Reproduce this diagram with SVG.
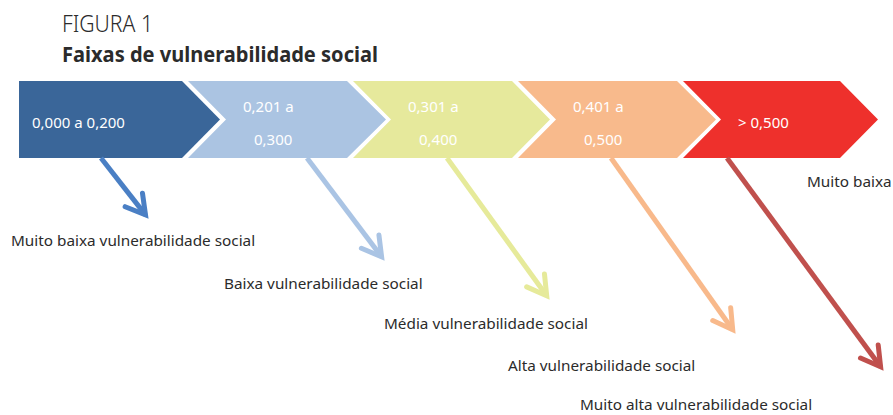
<svg xmlns="http://www.w3.org/2000/svg" width="893" height="415" viewBox="0 0 893 415">
  <style>
    .title { font-family: "Noto Sans", "Open Sans", sans-serif; fill: #2b2b2b; }
    .band { stroke: none; }
    .val { font-family: "Noto Sans", "Open Sans", sans-serif; font-size: 15px; fill: #ffffff; }
    .lbl { font-family: "Noto Sans", "Open Sans", sans-serif; font-size: 15.3px; fill: #2b2b2b; }
    .arrow { fill: none; stroke-width: 5; stroke-linecap: butt; }
    .head { fill: none; stroke-width: 5; stroke-linejoin: miter; stroke-linecap: round; }
  </style>
  <defs>
    <marker id="head-1" markerUnits="userSpaceOnUse" markerWidth="40" markerHeight="40" refX="0" refY="0" orient="auto" overflow="visible">
      <path class="head" d="M-19,-11 L0,0 L-19,11" stroke="#4a7fc4"/>
    </marker>
    <marker id="head-2" markerUnits="userSpaceOnUse" markerWidth="40" markerHeight="40" refX="0" refY="0" orient="auto" overflow="visible">
      <path class="head" d="M-19,-11 L0,0 L-19,11" stroke="#aac4e4"/>
    </marker>
    <marker id="head-3" markerUnits="userSpaceOnUse" markerWidth="40" markerHeight="40" refX="0" refY="0" orient="auto" overflow="visible">
      <path class="head" d="M-19,-11 L0,0 L-19,11" stroke="#e6ea9a"/>
    </marker>
    <marker id="head-4" markerUnits="userSpaceOnUse" markerWidth="40" markerHeight="40" refX="0" refY="0" orient="auto" overflow="visible">
      <path class="head" d="M-19,-11 L0,0 L-19,11" stroke="#f8b98b"/>
    </marker>
    <marker id="head-5" markerUnits="userSpaceOnUse" markerWidth="40" markerHeight="40" refX="0" refY="0" orient="auto" overflow="visible">
      <path class="head" d="M-19,-11 L0,0 L-19,11" stroke="#c0504d"/>
    </marker>
  </defs>

  <rect width="893" height="415" fill="#ffffff"/>

  <!-- heading -->
  <text class="title" x="62" y="32" font-size="23" font-weight="300" textLength="91" lengthAdjust="spacingAndGlyphs">FIGURA 1</text>
  <text class="title" x="62" y="62" font-size="21" font-weight="700" textLength="316" lengthAdjust="spacingAndGlyphs">Faixas de vulnerabilidade social</text>

  <!-- range bands -->
  <g id="band-1">
    <polygon class="band" fill="#3a6699" points="19,81 182,81 220,119.5 182,158 19,158"/>
    <text class="val" x="32" y="128">0,000 a 0,200</text>
  </g>
  <g id="band-2">
    <polygon class="band" fill="#abc4e2" points="188,81 347,81 386,119.5 347,158 188,158 226,119.5"/>
    <text class="val" x="243" y="112">0,201 a</text>
    <text class="val" x="254" y="145">0,300</text>
  </g>
  <g id="band-3">
    <polygon class="band" fill="#e6e99c" points="353,81 512,81 550,119.5 512,158 353,158 391,119.5"/>
    <text class="val" x="408" y="112">0,301 a</text>
    <text class="val" x="419" y="145">0,400</text>
  </g>
  <g id="band-4">
    <polygon class="band" fill="#f8ba8c" points="518,81 677,81 716,119.5 677,158 518,158 556,119.5"/>
    <text class="val" x="573" y="112">0,401 a</text>
    <text class="val" x="584" y="145">0,500</text>
  </g>
  <g id="band-5">
    <polygon class="band" fill="#ee302c" points="683,81 840,81 878,119.5 840,158 683,158 721,119.5"/>
    <text class="val" x="738" y="128">&gt; 0,500</text>
  </g>

  <!-- connectors -->
  <g id="connectors">
    <path class="arrow" stroke="#4a7fc4" d="M101,158 L145.5,214.9" marker-end="url(#head-1)"/>
    <path class="arrow" stroke="#aac4e4" d="M307,158 L381.6,256.8" marker-end="url(#head-2)"/>
    <path class="arrow" stroke="#e6ea9a" d="M447,158 L546.7,295.8" marker-end="url(#head-3)"/>
    <path class="arrow" stroke="#f8b98b" d="M611,158 L732.7,329.7" marker-end="url(#head-4)"/>
    <path class="arrow" stroke="#c0504d" d="M727,158 L880.6,366.8" marker-end="url(#head-5)"/>
  </g>

  <!-- category labels -->
  <g id="label-1"><text class="lbl" x="11" y="246">Muito baixa vulnerabilidade social</text></g>
  <g id="label-2"><text class="lbl" x="224" y="289">Baixa vulnerabilidade social</text></g>
  <g id="label-3"><text class="lbl" x="384" y="329">Média vulnerabilidade social</text></g>
  <g id="label-4"><text class="lbl" x="508" y="371">Alta vulnerabilidade social</text></g>
  <g id="label-5"><text class="lbl" x="580" y="410">Muito alta vulnerabilidade social</text></g>
  <g id="label-6"><text class="lbl" x="807" y="187">Muito baixa</text></g>
</svg>
